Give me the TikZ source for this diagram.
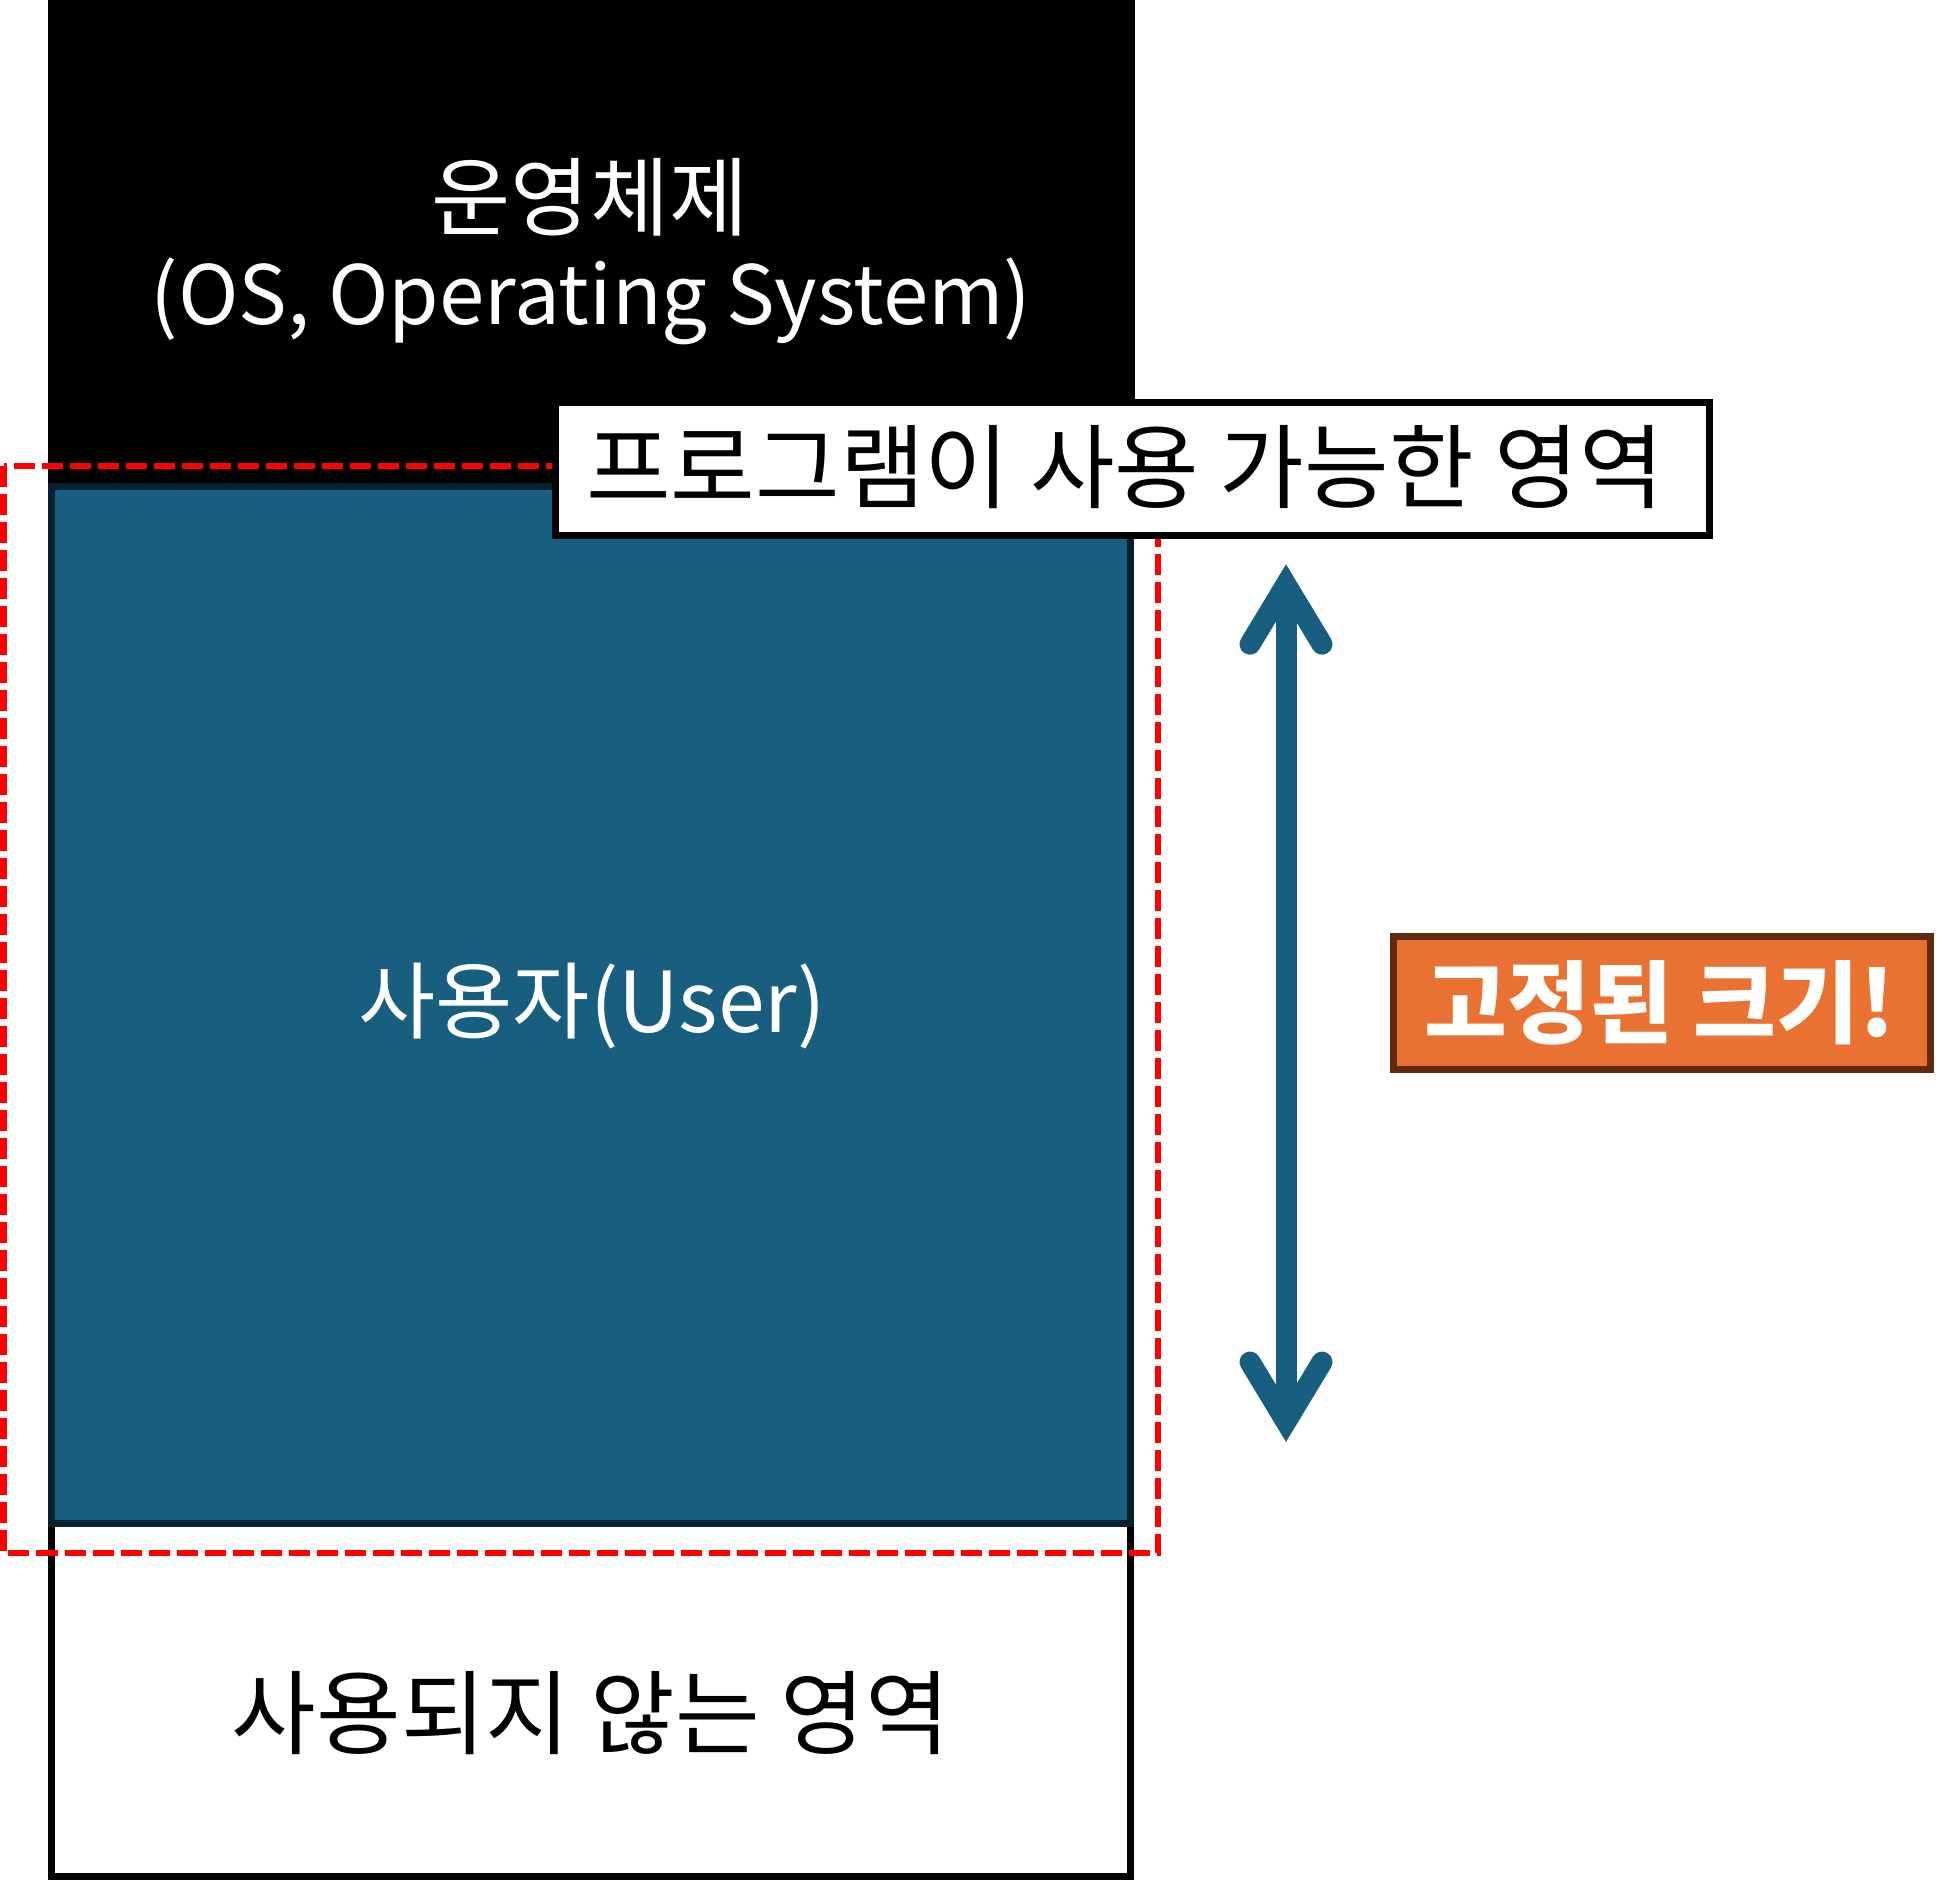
\documentclass[tikz,border=0pt]{standalone}
\usepackage{fontspec}
\setmainfont{Noto Sans CJK KR}
\usetikzlibrary{calc}
\definecolor{userblue}{RGB}{24,94,127}
\definecolor{navyedge}{RGB}{7,33,48}
\definecolor{dashred}{RGB}{255,0,0}
\definecolor{orangefill}{RGB}{233,113,50}
\definecolor{brownedge}{RGB}{95,42,14}
\tikzset{
  boxline/.style={line width=3.5pt},
  arrowline/.style={userblue, line width=10.5pt},
  txt/.style={inner sep=0pt, align=center},
}
\begin{document}
\begin{tikzpicture}[x=0.5pt,y=-0.5pt]
\useasboundingbox (0,0) rectangle (1945,1880);
% operating system area
\fill[black] (48,0) rectangle (1135,483);
% unused area
\draw[boxline, fill=white] (51.5,1523) rectangle (1130.5,1876.5);
% user area
\draw[boxline, navyedge, fill=userblue] (51.5,486.5) rectangle (1130.5,1523.5);
% available area (dashed)
\draw[dashred, line width=3pt, dash pattern=on 10.5pt off 3.5pt] (3.5,466) rectangle (1158,1553);
% label box
\node[boxline, draw=black, fill=white, minimum width=577pt, minimum height=66.5pt, inner sep=0pt] (lbl) at (1132.5,469) {};
\node[txt, font=\fontsize{46}{55}\selectfont] (lbltext) at (1125,467) {프로그램이 사용 가능한 영역};
% texts
\node[txt, text=white, font=\fontsize{43}{52}\selectfont] (os1) at (590,197) {운영체제};
\node[txt, text=white, font=\fontsize{40.8}{49}\selectfont] (os2) at (591,301) {(OS, Operating System)};
\node[txt, text=white, font=\fontsize{42}{50}\selectfont] (usertext) at (592,1006) {사용자(User)};
\node[txt, text=black, font=\fontsize{46}{55}\selectfont] (unusedtext) at (591,1713) {사용되지 않는 영역};
% fixed size box
\node[boxline, draw=brownedge, fill=orangefill, minimum width=268.5pt, minimum height=66.5pt, inner sep=0pt] (fixed) at (1662,1003) {};
\node[txt, text=white, font=\fontsize{45}{54}\selectfont\bfseries] (fixedtext) at (1660,1003) {고정된 크기!};
% double arrow
\coordinate (atop) at (1286,584.6);
\coordinate (abot) at (1286,1421.6);
\draw[arrowline] (atop) -- (abot);
\draw[arrowline, line cap=round, line join=miter] ($(atop)+(-36,59.6)$) -- (atop) -- ($(atop)+(36,59.6)$);
\draw[arrowline, line cap=round, line join=miter] ($(abot)+(-36,-59.6)$) -- (abot) -- ($(abot)+(36,-59.6)$);
\end{tikzpicture}
\end{document}
